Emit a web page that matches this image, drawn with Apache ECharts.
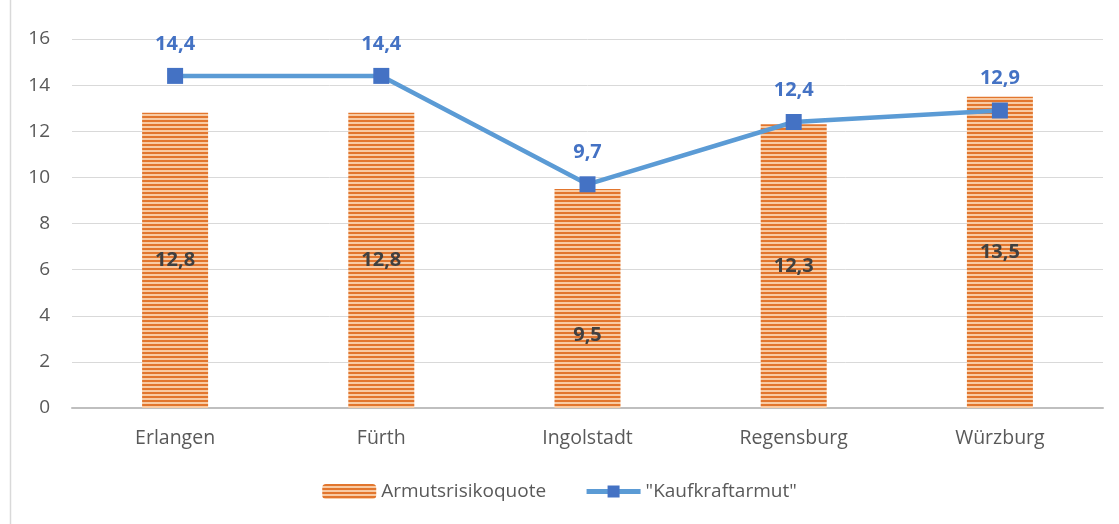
<!DOCTYPE html>
<html>
<head>
<meta charset="utf-8">
<script src="https://cdn.jsdelivr.net/npm/echarts@6/dist/echarts.min.js"></script>
<style>
  html, body { margin: 0; padding: 0; background: #fff; }
  #chart { width: 1119px; height: 524px; }
</style>
</head>
<body>
<div id="chart"></div>
<script>
const cities = ["Erlangen", "Fürth", "Ingolstadt", "Regensburg", "Würzburg"];
const armut = [12.8, 12.8, 9.5, 12.3, 13.5];
const kaufkraft = [14.4, 14.4, 9.7, 12.4, 12.9];

// Streifenmuster für die Balken
function stripes() {
    const c = document.createElement("canvas");
    c.width = 4;
    c.height = 4;
    const ctx = c.getContext("2d");
    ctx.fillStyle = "#F8CBA4";
    ctx.fillRect(0, 0, 4, 4);
    ctx.fillStyle = "#E2762E";
    ctx.fillRect(0, 0, 4, 2);
    return c;
}

const fmt = v => String(v).replace(".", ",");
const font = "'Open Sans', sans-serif";

const chart = echarts.init(document.getElementById("chart"));

chart.setOption({
    animation: false,
    textStyle: { fontFamily: font },
    grid: { left: 72, right: 16, top: 39, bottom: 116 },
    graphic: [{
        type: "line",
        shape: { x1: 10.5, y1: 0, x2: 10.5, y2: 524 },
        style: { stroke: "#D9D9D9", lineWidth: 1.5 }
    }],
    legend: {
        bottom: 18,
        itemGap: 38,
        itemWidth: 54,
        itemHeight: 15,
        textStyle: { fontSize: 19, color: "#595959", fontFamily: font },
        data: [
            { name: "Armutsrisikoquote" },
            { name: "\"Kaufkraftarmut\"", lineStyle: { width: 5 } }
        ]
    },
    xAxis: {
        type: "category",
        data: cities,
        axisLine: { lineStyle: { color: "#BFBFBF", width: 2 } },
        axisTick: { show: false },
        axisLabel: { fontSize: 19.5, color: "#595959", margin: 20 }
    },
    yAxis: {
        type: "value",
        min: 0,
        max: 16,
        interval: 2,
        axisLine: { show: false },
        axisTick: { show: false },
        axisLabel: { fontSize: 19, color: "#595959", margin: 22 },
        splitLine: { lineStyle: { color: "#D9D9D9", width: 1 } }
    },
    series: [
        {
            name: "Armutsrisikoquote",
            type: "bar",
            barWidth: 66,
            data: armut.map((v, i) => i === 2
                ? { value: v, label: { offset: [0, 37] } }
                : v),
            itemStyle: { color: { image: stripes(), repeat: "repeat" } },
            label: {
                show: true,
                position: "inside",
                formatter: p => fmt(p.value),
                fontSize: 20,
                fontWeight: "bold",
                color: "#404040"
            }
        },
        {
            name: "\"Kaufkraftarmut\"",
            type: "line",
            data: kaufkraft,
            symbol: "rect",
            symbolSize: 16,
            lineStyle: { color: "#5B9BD5", width: 4.5 },
            itemStyle: { color: "#4472C4" },
            label: {
                show: true,
                position: "top",
                distance: 14,
                formatter: p => fmt(p.value),
                fontSize: 20,
                fontWeight: "bold",
                color: "#4472C4"
            }
        }
    ]
});
</script>
</body>
</html>
